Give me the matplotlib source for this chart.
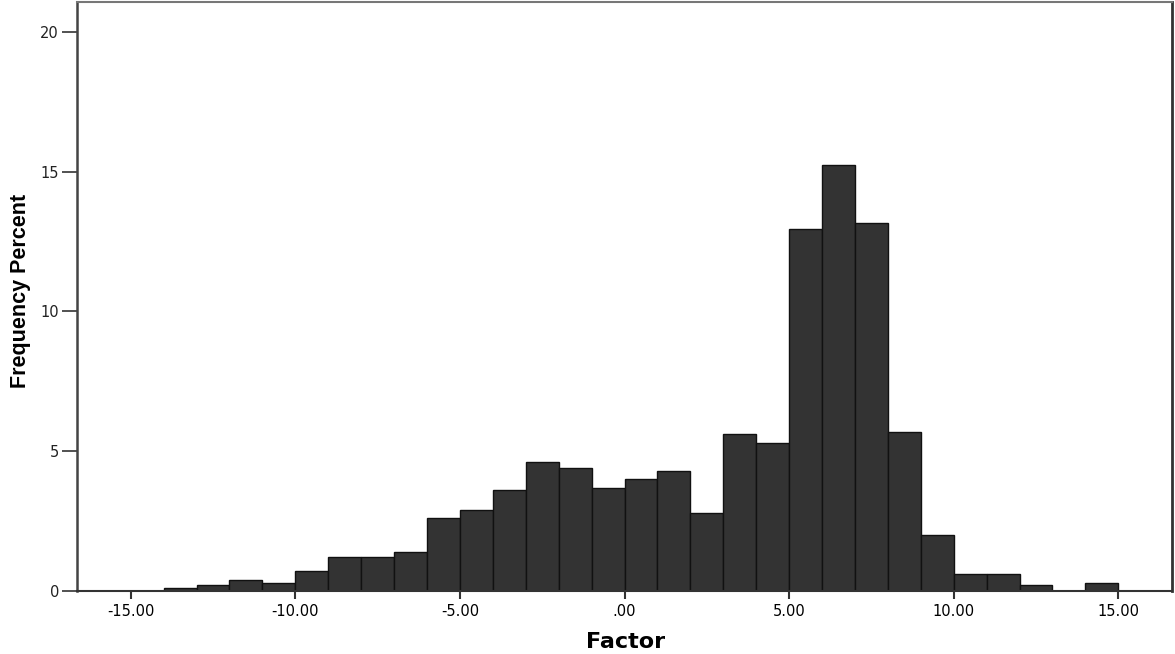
import matplotlib
matplotlib.use("Agg")
import matplotlib.pyplot as plt

# ---------- Data (percent per unit-width bin) ----------
bin_left = [-14, -13, -12, -11, -10, -9, -8, -7, -6, -5, -4, -3, -2, -1, 0,
            1, 2, 3, 4, 5, 6, 7, 8, 9, 10, 11, 12, 13, 14]
percent = [0.1, 0.2, 0.4, 0.3, 0.7, 1.2, 1.2, 1.4, 2.6, 2.9, 3.6, 4.6, 4.4, 3.7, 4.0,
           4.3, 2.8, 5.6, 5.3, 12.95, 15.25, 13.15, 5.7, 2.0, 0.6, 0.6, 0.2, 0.0, 0.3]
x_ticks = [-15, -10, -5, 0, 5, 10, 15]
x_tick_labels = ["-15.00", "-10.00", "-5.00", ".00", "5.00", "10.00", "15.00"]
y_ticks = [0, 5, 10, 15, 20]

# ---------- Figure ----------
fig = plt.figure(figsize=(11.75, 6.54), dpi=100)
ax = fig.add_axes([77 / 1175, 1 - 591 / 654, (1172 - 77) / 1175, (591 - 2) / 654])

ax.bar(bin_left, percent, width=1.0, align="edge",
       color="#333333", edgecolor="#111111", linewidth=1.0)

ax.set_xlim(-16.63, 16.63)
ax.set_ylim(0, 21.07)

ax.set_xticks(x_ticks)
ax.set_xticklabels(x_tick_labels)
ax.set_yticks(y_ticks)
ax.tick_params(axis="x", direction="out", length=6, width=1.5, color="#333333",
               labelsize=10.5, pad=3)
ax.tick_params(axis="y", direction="out", length=11, width=1.2, color="#333333",
               labelsize=10.5, pad=2, labelcolor="#222222")

# frame
ax.spines["top"].set_color("#777777")
ax.spines["top"].set_linewidth(1.5)
ax.spines["right"].set_color("#333333")
ax.spines["right"].set_linewidth(2.0)
ax.spines["left"].set_color("#444444")
ax.spines["left"].set_linewidth(1.8)
ax.spines["bottom"].set_color("#333333")
ax.spines["bottom"].set_linewidth(1.5)

# ---------- Labels ----------
fig.text(21 / 1175, 1 - 291 / 654, "Frequency Percent", rotation=90,
         ha="center", va="center", fontsize=15.5, fontweight="bold",
         family=["Liberation Sans", "DejaVu Sans"])
fig.text(626 / 1175, 1 - 642 / 654, "Factor", ha="center", va="center",
         fontsize=16, fontweight="bold", family=["DejaVu Sans"])

fig.savefig("out.png", dpi=100, facecolor="white")
